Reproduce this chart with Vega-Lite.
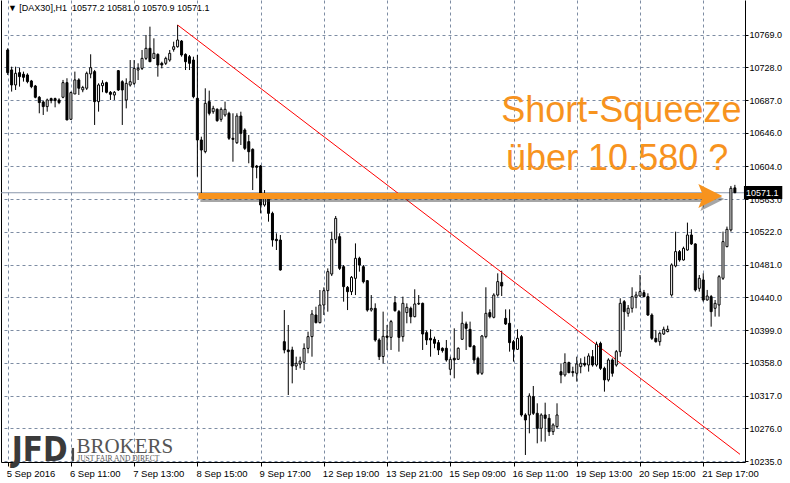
{
"$schema": "https://vega.github.io/schema/vega-lite/v6.json",
"width": 744, "height": 462,
"autosize": {"type": "none"},
"padding": {"left": 1, "top": 0, "right": 45, "bottom": 21},
"background": "white",
"config": {"view": {"stroke": null}, "font": "Liberation Sans"},
"resolve": {"axis": {"y": "independent"}},
"datasets": {
"arrow": [{"a": 48.25, "b": 176.3, "h": 177.8, "p": 10566.9}],
"candles": [
{"i":0,"o":10749.9,"h":10752.0,"l":10718.6,"c":10721.5},
{"i":1,"o":10724.9,"h":10729.0,"l":10697.8,"c":10706.1},
{"i":2,"o":10706.1,"h":10729.0,"l":10699.8,"c":10720.7},
{"i":3,"o":10721.5,"h":10727.8,"l":10704.0,"c":10716.5},
{"i":4,"o":10719.5,"h":10722.8,"l":10710.3,"c":10715.7},
{"i":5,"o":10718.6,"h":10720.7,"l":10708.2,"c":10710.3},
{"i":6,"o":10711.1,"h":10712.4,"l":10702.0,"c":10704.0},
{"i":7,"o":10704.8,"h":10706.1,"l":10689.4,"c":10690.7},
{"i":8,"o":10690.7,"h":10692.3,"l":10670.6,"c":10684.0},
{"i":9,"o":10684.8,"h":10686.5,"l":10668.5,"c":10679.0},
{"i":10,"o":10679.0,"h":10689.0,"l":10672.7,"c":10687.3},
{"i":11,"o":10689.0,"h":10690.2,"l":10683.1,"c":10686.5},
{"i":12,"o":10689.0,"h":10690.2,"l":10678.1,"c":10686.5},
{"i":13,"o":10687.3,"h":10689.4,"l":10682.0,"c":10684.0},
{"i":14,"o":10690.7,"h":10712.4,"l":10689.4,"c":10709.0},
{"i":15,"o":10709.0,"h":10714.5,"l":10662.0,"c":10662.3},
{"i":16,"o":10663.1,"h":10697.8,"l":10662.3,"c":10696.5},
{"i":17,"o":10694.8,"h":10722.8,"l":10694.8,"c":10712.4},
{"i":18,"o":10712.4,"h":10714.5,"l":10693.6,"c":10702.0},
{"i":19,"o":10700.0,"h":10705.0,"l":10697.0,"c":10703.0},
{"i":20,"o":10702.0,"h":10722.8,"l":10699.8,"c":10720.7},
{"i":21,"o":10719.9,"h":10744.5,"l":10714.5,"c":10727.8},
{"i":22,"o":10722.8,"h":10724.9,"l":10656.0,"c":10685.2},
{"i":23,"o":10685.2,"h":10708.2,"l":10672.7,"c":10706.1},
{"i":24,"o":10705.2,"h":10712.0,"l":10697.0,"c":10708.5},
{"i":25,"o":10709.0,"h":10710.2,"l":10695.6,"c":10696.9},
{"i":26,"o":10696.9,"h":10698.5,"l":10687.3,"c":10694.4},
{"i":27,"o":10693.5,"h":10698.5,"l":10687.3,"c":10696.9},
{"i":28,"o":10724.0,"h":10724.8,"l":10698.5,"c":10699.8},
{"i":29,"o":10710.2,"h":10712.0,"l":10656.0,"c":10699.8},
{"i":30,"o":10687.3,"h":10714.4,"l":10676.8,"c":10708.1},
{"i":31,"o":10706.0,"h":10737.3,"l":10704.0,"c":10710.2},
{"i":32,"o":10708.1,"h":10737.3,"l":10706.0,"c":10726.9},
{"i":33,"o":10724.8,"h":10733.2,"l":10712.3,"c":10726.9},
{"i":34,"o":10726.9,"h":10749.9,"l":10724.8,"c":10739.4},
{"i":35,"o":10739.4,"h":10768.7,"l":10737.3,"c":10752.0},
{"i":36,"o":10752.0,"h":10779.1,"l":10735.2,"c":10735.2},
{"i":37,"o":10739.4,"h":10764.5,"l":10739.4,"c":10745.7},
{"i":38,"o":10744.4,"h":10745.7,"l":10716.5,"c":10731.1},
{"i":39,"o":10733.2,"h":10735.2,"l":10726.9,"c":10731.1},
{"i":40,"o":10733.2,"h":10741.5,"l":10731.1,"c":10739.4},
{"i":41,"o":10737.3,"h":10749.9,"l":10735.2,"c":10745.7},
{"i":42,"o":10750.7,"h":10760.3,"l":10747.8,"c":10754.0},
{"i":43,"o":10754.0,"h":10781.2,"l":10752.8,"c":10762.4},
{"i":44,"o":10761.1,"h":10762.4,"l":10741.5,"c":10743.6},
{"i":45,"o":10744.4,"h":10745.7,"l":10724.8,"c":10735.2},
{"i":46,"o":10741.5,"h":10743.6,"l":10724.8,"c":10733.2},
{"i":47,"o":10737.3,"h":10741.5,"l":10689.4,"c":10691.4},
{"i":48,"o":10689.4,"h":10743.6,"l":10591.3,"c":10637.2},
{"i":49,"o":10637.2,"h":10641.3,"l":10570.4,"c":10624.6},
{"i":50,"o":10622.6,"h":10701.9,"l":10620.5,"c":10683.1},
{"i":51,"o":10685.2,"h":10699.0,"l":10668.0,"c":10670.6},
{"i":52,"o":10672.6,"h":10680.0,"l":10670.0,"c":10676.8},
{"i":53,"o":10675.6,"h":10676.8,"l":10660.0,"c":10661.4},
{"i":54,"o":10663.0,"h":10678.0,"l":10660.0,"c":10675.6},
{"i":55,"o":10668.5,"h":10685.2,"l":10666.4,"c":10675.6},
{"i":56,"o":10670.6,"h":10672.6,"l":10637.2,"c":10639.3},
{"i":57,"o":10639.3,"h":10670.6,"l":10610.0,"c":10638.0},
{"i":58,"o":10633.8,"h":10670.6,"l":10632.2,"c":10667.2},
{"i":59,"o":10667.2,"h":10672.6,"l":10630.9,"c":10645.5},
{"i":60,"o":10649.7,"h":10651.8,"l":10624.6,"c":10626.7},
{"i":61,"o":10635.1,"h":10643.4,"l":10608.0,"c":10622.5},
{"i":62,"o":10625.5,"h":10626.7,"l":10574.5,"c":10603.0},
{"i":63,"o":10604.6,"h":10605.9,"l":10589.2,"c":10603.0},
{"i":64,"o":10604.6,"h":10605.9,"l":10545.3,"c":10555.8},
{"i":65,"o":10555.8,"h":10574.5,"l":10553.7,"c":10568.3},
{"i":66,"o":10564.1,"h":10566.2,"l":10534.9,"c":10545.3},
{"i":67,"o":10545.3,"h":10547.4,"l":10503.6,"c":10511.9},
{"i":68,"o":10512.8,"h":10520.3,"l":10499.4,"c":10511.1},
{"i":69,"o":10511.9,"h":10518.2,"l":10473.5,"c":10474.4},
{"i":70,"o":10384.6,"h":10424.2,"l":10370.0,"c":10374.2},
{"i":71,"o":10374.2,"h":10405.5,"l":10317.8,"c":10372.1},
{"i":72,"o":10374.2,"h":10378.3,"l":10332.4,"c":10354.1},
{"i":73,"o":10354.1,"h":10365.8,"l":10349.1,"c":10357.5},
{"i":74,"o":10356.6,"h":10365.8,"l":10351.2,"c":10360.4},
{"i":75,"o":10358.7,"h":10382.5,"l":10349.1,"c":10376.2},
{"i":76,"o":10376.2,"h":10397.1,"l":10370.0,"c":10390.9},
{"i":77,"o":10390.9,"h":10424.2,"l":10365.8,"c":10419.2},
{"i":78,"o":10418.0,"h":10428.4,"l":10407.5,"c":10408.4},
{"i":79,"o":10408.4,"h":10449.3,"l":10407.5,"c":10430.5},
{"i":80,"o":10430.5,"h":10452.6,"l":10418.0,"c":10448.5},
{"i":81,"o":10448.5,"h":10476.4,"l":10422.2,"c":10472.3},
{"i":82,"o":10469.3,"h":10522.3,"l":10466.8,"c":10512.7},
{"i":83,"o":10512.7,"h":10542.0,"l":10507.7,"c":10539.0},
{"i":84,"o":10516.1,"h":10520.3,"l":10474.3,"c":10476.4},
{"i":85,"o":10478.5,"h":10480.6,"l":10434.7,"c":10453.5},
{"i":86,"o":10452.6,"h":10454.3,"l":10424.2,"c":10447.2},
{"i":87,"o":10447.2,"h":10466.8,"l":10443.0,"c":10465.2},
{"i":88,"o":10463.9,"h":10507.7,"l":10443.0,"c":10489.0},
{"i":89,"o":10489.0,"h":10491.0,"l":10472.3,"c":10480.6},
{"i":90,"o":10478.5,"h":10480.6,"l":10457.6,"c":10459.7},
{"i":91,"o":10461.0,"h":10461.8,"l":10422.2,"c":10424.2},
{"i":92,"o":10424.2,"h":10443.0,"l":10422.2,"c":10426.3},
{"i":93,"o":10426.3,"h":10432.6,"l":10384.6,"c":10386.7},
{"i":94,"o":10386.7,"h":10388.8,"l":10361.6,"c":10365.8},
{"i":95,"o":10366.0,"h":10422.2,"l":10357.5,"c":10391.3},
{"i":96,"o":10391.7,"h":10405.5,"l":10374.2,"c":10390.0},
{"i":97,"o":10390.0,"h":10411.8,"l":10374.2,"c":10409.7},
{"i":98,"o":10433.5,"h":10441.8,"l":10422.2,"c":10423.4},
{"i":99,"o":10422.2,"h":10424.3,"l":10372.1,"c":10390.0},
{"i":100,"o":10390.9,"h":10441.0,"l":10384.6,"c":10432.6},
{"i":101,"o":10421.0,"h":10432.6,"l":10407.6,"c":10427.6},
{"i":102,"o":10426.4,"h":10428.5,"l":10407.6,"c":10415.9},
{"i":103,"o":10415.9,"h":10450.2,"l":10415.1,"c":10431.8},
{"i":104,"o":10431.8,"h":10443.0,"l":10430.5,"c":10432.6},
{"i":105,"o":10432.6,"h":10433.5,"l":10374.2,"c":10394.2},
{"i":106,"o":10395.9,"h":10398.4,"l":10380.5,"c":10386.7},
{"i":107,"o":10388.8,"h":10400.1,"l":10365.8,"c":10386.7},
{"i":108,"o":10387.6,"h":10390.9,"l":10376.3,"c":10382.5},
{"i":109,"o":10383.4,"h":10386.7,"l":10367.9,"c":10374.2},
{"i":110,"o":10376.3,"h":10377.5,"l":10370.9,"c":10373.4},
{"i":111,"o":10376.3,"h":10386.7,"l":10359.6,"c":10361.7},
{"i":112,"o":10350.0,"h":10365.8,"l":10342.9,"c":10362.5},
{"i":113,"o":10363.8,"h":10401.3,"l":10338.7,"c":10361.7},
{"i":114,"o":10362.5,"h":10377.5,"l":10361.7,"c":10376.3},
{"i":115,"o":10387.6,"h":10422.2,"l":10386.7,"c":10407.6},
{"i":116,"o":10406.8,"h":10409.7,"l":10374.2,"c":10401.3},
{"i":117,"o":10400.0,"h":10409.7,"l":10377.5,"c":10378.4},
{"i":118,"o":10379.2,"h":10380.5,"l":10357.5,"c":10361.7},
{"i":119,"o":10363.8,"h":10365.8,"l":10342.9,"c":10345.0},
{"i":120,"o":10345.0,"h":10393.0,"l":10342.9,"c":10391.7},
{"i":121,"o":10390.9,"h":10452.7,"l":10388.8,"c":10420.1},
{"i":122,"o":10421.0,"h":10425.1,"l":10413.8,"c":10415.9},
{"i":123,"o":10415.1,"h":10445.2,"l":10413.8,"c":10443.0},
{"i":124,"o":10443.0,"h":10470.2,"l":10441.0,"c":10459.8},
{"i":125,"o":10458.9,"h":10473.5,"l":10441.8,"c":10454.3},
{"i":126,"o":10413.8,"h":10425.1,"l":10405.5,"c":10406.8},
{"i":127,"o":10407.6,"h":10425.1,"l":10372.1,"c":10383.4},
{"i":128,"o":10384.6,"h":10386.7,"l":10359.6,"c":10375.0},
{"i":129,"o":10375.0,"h":10400.1,"l":10374.2,"c":10388.8},
{"i":130,"o":10390.9,"h":10393.0,"l":10290.7,"c":10292.8},
{"i":131,"o":10292.8,"h":10294.9,"l":10242.7,"c":10286.5},
{"i":132,"o":10292.8,"h":10319.9,"l":10269.8,"c":10316.6},
{"i":133,"o":10315.8,"h":10329.1,"l":10292.8,"c":10294.9},
{"i":134,"o":10294.9,"h":10307.4,"l":10257.3,"c":10276.1},
{"i":135,"o":10276.1,"h":10294.9,"l":10259.4,"c":10292.8},
{"i":136,"o":10292.8,"h":10308.2,"l":10259.4,"c":10288.6},
{"i":137,"o":10288.6,"h":10294.0,"l":10266.5,"c":10271.9},
{"i":138,"o":10271.9,"h":10282.4,"l":10267.7,"c":10280.3},
{"i":139,"o":10278.2,"h":10307.4,"l":10276.1,"c":10292.8},
{"i":140,"o":10347.0,"h":10357.5,"l":10332.5,"c":10342.9},
{"i":141,"o":10342.9,"h":10370.0,"l":10340.8,"c":10358.4},
{"i":142,"o":10358.4,"h":10359.6,"l":10345.0,"c":10345.8},
{"i":143,"o":10347.1,"h":10353.3,"l":10340.8,"c":10345.8},
{"i":144,"o":10345.0,"h":10365.8,"l":10334.6,"c":10356.7},
{"i":145,"o":10353.3,"h":10363.8,"l":10345.0,"c":10357.5},
{"i":146,"o":10357.5,"h":10365.8,"l":10353.3,"c":10355.4},
{"i":147,"o":10355.4,"h":10370.0,"l":10347.1,"c":10366.7},
{"i":148,"o":10365.8,"h":10374.2,"l":10353.3,"c":10355.4},
{"i":149,"o":10355.4,"h":10384.6,"l":10353.3,"c":10381.3},
{"i":150,"o":10382.5,"h":10384.6,"l":10349.2,"c":10351.2},
{"i":151,"o":10351.2,"h":10353.3,"l":10322.0,"c":10336.7},
{"i":152,"o":10336.7,"h":10363.8,"l":10334.6,"c":10361.7},
{"i":153,"o":10361.7,"h":10363.8,"l":10340.8,"c":10345.0},
{"i":154,"o":10355.4,"h":10374.2,"l":10353.3,"c":10372.1},
{"i":155,"o":10372.1,"h":10438.9,"l":10365.8,"c":10432.6},
{"i":156,"o":10434.7,"h":10436.8,"l":10399.3,"c":10422.2},
{"i":157,"o":10420.1,"h":10430.5,"l":10415.9,"c":10426.4},
{"i":158,"o":10426.4,"h":10452.7,"l":10421.0,"c":10441.0},
{"i":159,"o":10440.2,"h":10447.3,"l":10426.4,"c":10443.1},
{"i":160,"o":10441.8,"h":10468.1,"l":10441.0,"c":10447.3},
{"i":161,"o":10446.0,"h":10449.4,"l":10440.2,"c":10441.0},
{"i":162,"o":10441.0,"h":10445.2,"l":10416.8,"c":10418.0},
{"i":163,"o":10418.0,"h":10420.1,"l":10386.7,"c":10388.8},
{"i":164,"o":10388.8,"h":10399.3,"l":10383.4,"c":10384.6},
{"i":165,"o":10384.6,"h":10397.2,"l":10379.6,"c":10395.1},
{"i":166,"o":10394.2,"h":10403.4,"l":10393.0,"c":10400.1},
{"i":167,"o":10397.2,"h":10404.7,"l":10396.3,"c":10400.1},
{"i":168,"o":10443.1,"h":10482.7,"l":10441.0,"c":10480.7},
{"i":169,"o":10479.4,"h":10522.4,"l":10477.7,"c":10497.4},
{"i":170,"o":10497.4,"h":10499.4,"l":10484.8,"c":10486.9},
{"i":171,"o":10486.9,"h":10503.6,"l":10486.1,"c":10501.5},
{"i":172,"o":10499.4,"h":10533.7,"l":10498.6,"c":10518.2},
{"i":173,"o":10518.2,"h":10525.3,"l":10505.7,"c":10507.0},
{"i":174,"o":10507.0,"h":10507.8,"l":10447.3,"c":10449.3},
{"i":175,"o":10451.4,"h":10468.1,"l":10447.3,"c":10464.0},
{"i":176,"o":10461.9,"h":10470.2,"l":10434.7,"c":10436.8},
{"i":177,"o":10436.8,"h":10449.4,"l":10436.0,"c":10441.8},
{"i":178,"o":10441.0,"h":10443.1,"l":10403.4,"c":10422.2},
{"i":179,"o":10426.4,"h":10436.8,"l":10416.0,"c":10432.6},
{"i":180,"o":10430.6,"h":10468.1,"l":10416.0,"c":10466.0},
{"i":181,"o":10464.0,"h":10522.4,"l":10461.9,"c":10509.9},
{"i":182,"o":10503.6,"h":10528.7,"l":10502.8,"c":10525.3},
{"i":183,"o":10524.5,"h":10579.6,"l":10522.4,"c":10576.7},
{"i":184,"o":10577.2,"h":10581.0,"l":10570.9,"c":10571.1}
]},
"layer": [
{
"data": {"values": [{"p": 10571.1}]},
"mark": {"type": "rule", "color": "#8a97ab", "strokeWidth": 1},
"encoding": {
"y": {"field": "p", "type": "quantitative",
"axis": {"orient": "left", "labels": false, "ticks": false, "grid": false, "domain": true, "domainColor": "#000000", "title": null}}
}
},
{
"data": {"name": "candles"},
"mark": {"type": "rule", "color": "#000000", "strokeWidth": 1},
"encoding": {
"x": {"field": "i", "type": "quantitative",
"scale": {"domain": [-0.424, 185.3], "nice": false, "zero": false},
"axis": {"orient": "bottom", "values": [0,8,16,24,32,40,48,56,64,72,80,88,96,104,112,120,128,136,144,152,160,168,176,184],
"labelExpr": "datum.value % 16 === 0 ? ['5 Sep 2016','6 Sep 11:00','7 Sep 13:00','8 Sep 15:00','9 Sep 17:00','12 Sep 19:00','13 Sep 21:00','15 Sep 09:00','16 Sep 11:00','19 Sep 13:00','20 Sep 15:00','21 Sep 17:00'][datum.value / 16] : ''",
"grid": true, "gridColor": "#7d8ca3", "gridDash": [3, 3], "gridWidth": 1,
"tickColor": {"condition": {"test": "datum.value % 16 === 0", "value": "#000000"}, "value": "transparent"},
"tickSize": 4, "labelAlign": "left", "labelBaseline": "top", "labelPadding": 2, "labelFontSize": 9.5, "labelFont": "Liberation Sans", "labelColor": "#000000", "labelOffset": -1.5,
"domain": true, "domainColor": "#000000", "title": null, "labelOverlap": false, "labelBound": false, "labelFlush": false}},
"y": {"field": "l", "type": "quantitative",
"scale": {"domain": [10233.9, 10812.5], "nice": false, "zero": false},
"axis": {"orient": "right", "values": [10769,10728,10687,10646,10604,10563,10522,10481,10440,10399,10358,10317,10276,10235],
"format": ".1f", "grid": true, "gridColor": "#7d8ca3", "gridDash": [3, 3], "gridWidth": 1,
"tickColor": "#000000", "tickSize": 3, "labelPadding": 1, "labelFontSize": 9, "labelFont": "Liberation Sans", "labelColor": "#000000",
"domain": true, "domainColor": "#000000", "title": null, "labelOverlap": false, "labelBound": false, "labelFlush": false}},
"y2": {"field": "h"}
}
},
{
"data": {"values": [{"i": 43, "p": 10781.2}, {"i": 185.3, "p": 10243.5}]},
"mark": {"type": "line", "color": "#ff0000", "strokeWidth": 1, "clip": true},
"encoding": {
"x": {"field": "i", "type": "quantitative"},
"y": {"field": "p", "type": "quantitative", "axis": null}
}
},
{
"data": {"name": "candles"},
"mark": {"type": "bar", "width": 2, "stroke": "#000000", "strokeWidth": 1},
"encoding": {
"x": {"field": "i", "type": "quantitative"},
"y": {"field": "o", "type": "quantitative", "axis": null},
"y2": {"field": "c"},
"fill": {"condition": {"test": "datum.c >= datum.o", "value": "#ffffff"}, "value": "#000000"}
}
},
{
"data": {"name": "arrow"},
"mark": {"type": "rule", "color": "#3a3a3a", "opacity": 0.45, "strokeWidth": 6, "strokeCap": "butt", "xOffset": 2, "yOffset": 3},
"encoding": {
"x": {"field": "a", "type": "quantitative"}, "x2": {"field": "b"},
"y": {"field": "p", "type": "quantitative", "axis": null}
}
},
{
"data": {"name": "arrow"},
"mark": {"type": "point", "shape": "M 1 0 L -1 -1 L -0.6 0 L -1 1 Z", "filled": true, "color": "#3a3a3a", "opacity": 0.45, "size": 576, "strokeWidth": 0, "xOffset": 2, "yOffset": 3},
"encoding": {
"x": {"field": "h", "type": "quantitative"},
"y": {"field": "p", "type": "quantitative", "axis": null}
}
},
{
"data": {"name": "arrow"},
"mark": {"type": "rule", "color": "#f7931e", "strokeWidth": 6, "strokeCap": "butt"},
"encoding": {
"x": {"field": "a", "type": "quantitative"}, "x2": {"field": "b"},
"y": {"field": "p", "type": "quantitative", "axis": null}
}
},
{
"data": {"name": "arrow"},
"mark": {"type": "point", "shape": "M 1 0 L -1 -1 L -0.6 0 L -1 1 Z", "filled": true, "color": "#f7931e", "opacity": 1, "size": 576, "strokeWidth": 0},
"encoding": {
"x": {"field": "h", "type": "quantitative"},
"y": {"field": "p", "type": "quantitative", "axis": null}
}
},
{
"data": {"values": [{"t": "Short-Squeeze", "i": 124.9, "p": 10659.7}, {"t": "über 10.580 ?", "i": 126.1, "p": 10599.6}]},
"mark": {"type": "text", "align": "left", "baseline": "alphabetic", "fontSize": 36, "font": "Liberation Sans", "color": "#f7931e"},
"encoding": {
"x": {"field": "i", "type": "quantitative"},
"y": {"field": "p", "type": "quantitative", "axis": null},
"text": {"field": "t"}
}
},
{
"data": {"values": [{"t": "▼ [DAX30],H1\u00a0 10577.2 10581.0 10570.9 10571.1", "i": 0.07, "p": 10798.7}]},
"mark": {"type": "text", "align": "left", "baseline": "alphabetic", "fontSize": 9, "font": "Liberation Sans", "color": "#000000"},
"encoding": {
"x": {"field": "i", "type": "quantitative"},
"y": {"field": "p", "type": "quantitative", "axis": null},
"text": {"field": "t"}
}
},
{
"data": {"values": [{"t": "JFD", "i": 1.0, "p": 10235.5}]},
"mark": {"type": "text", "align": "left", "baseline": "alphabetic", "fontSize": 33, "fontWeight": "bold", "font": "DejaVu Sans Condensed", "color": "#3a3a3a"},
"encoding": {
"x": {"field": "i", "type": "quantitative"},
"y": {"field": "p", "type": "quantitative", "axis": null},
"text": {"field": "t"}
}
},
{
"data": {"values": [{"t": "BROKERS", "i": 17.4, "p": 10245.2}]},
"mark": {"type": "text", "align": "left", "baseline": "alphabetic", "fontSize": 21, "font": "Liberation Serif", "color": "#555555"},
"encoding": {
"x": {"field": "i", "type": "quantitative"},
"y": {"field": "p", "type": "quantitative", "axis": null},
"text": {"field": "t"}
}
},
{
"data": {"values": [{"t": "JUST FAIR AND DIRECT", "i": 17.6, "p": 10235.0}]},
"mark": {"type": "text", "align": "left", "baseline": "alphabetic", "fontSize": 7.5, "font": "Liberation Serif", "color": "#555555"},
"encoding": {
"x": {"field": "i", "type": "quantitative"},
"y": {"field": "p", "type": "quantitative", "axis": null},
"text": {"field": "t"}
}
},
{
"data": {"values": [{"a": 16.2, "b": 16.8, "p1": 10251.5, "p2": 10235.2}]},
"mark": {"type": "rect", "color": "#4a4a4a"},
"encoding": {
"x": {"field": "a", "type": "quantitative"}, "x2": {"field": "b"},
"y": {"field": "p1", "type": "quantitative", "axis": null}, "y2": {"field": "p2"}
}
},
{
"data": {"values": [{"a": 186.3, "b": 196.0, "p1": 10579.6, "p2": 10563.3}]},
"mark": {"type": "rect", "color": "#000000", "clip": false},
"encoding": {
"x": {"field": "a", "type": "quantitative"}, "x2": {"field": "b"},
"y": {"field": "p1", "type": "quantitative", "axis": null}, "y2": {"field": "p2"}
}
},
{
"data": {"values": [{"t": "10571.1", "i": 186.8, "p": 10571.1}]},
"mark": {"type": "text", "align": "left", "baseline": "middle", "fontSize": 9, "font": "Liberation Sans", "color": "#ffffff", "clip": false},
"encoding": {
"x": {"field": "i", "type": "quantitative"},
"y": {"field": "p", "type": "quantitative", "axis": null},
"text": {"field": "t"}
}
}
]
}
